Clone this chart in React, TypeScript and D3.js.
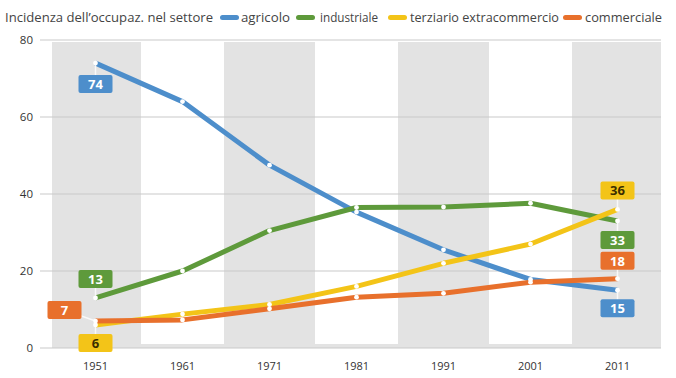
import React from "react";
import * as d3 from "d3";

const years = ["1951", "1961", "1971", "1981", "1991", "2001", "2011"];
const agricolo = [74, 64, 47.5, 35.3, 25.5, 17.8, 15];
const industriale = [13, 20, 30.5, 36.5, 36.6, 37.6, 33];
const terziario = [6, 8.8, 11.3, 16, 22, 27, 36];
const commerciale = [7, 7.3, 10.2, 13.2, 14.2, 17.1, 18];
const yTicks = [0, 20, 40, 60, 80];

const legendTitle = "Incidenza dell’occupaz. nel settore";

const series = [
  { name: "agricolo", values: agricolo, color: "#4d8ecb", text: "#ffffff" },
  { name: "industriale", values: industriale, color: "#5e9a3b", text: "#ffffff" },
  { name: "terziario extracommercio", values: terziario, color: "#f3c418", text: "#3a2e00" },
  { name: "commerciale", values: commerciale, color: "#e8702c", text: "#ffffff" },
];

// value-label placement: [series index, year index, dx, dy]
const labelSpots: [number, number, number, number][] = [
  [0, 0, 0, 21],
  [1, 0, 0, -19],
  [3, 0, -31, -11],
  [2, 0, 0, 18],
  [2, 6, 0, -19],
  [1, 6, 0, 19],
  [3, 6, 0, -18],
  [0, 6, 0, 18],
];

const W = 676;
const H = 378;
const left = 52;
const right = 661;
const top = 40;
const bottom = 348;
const font = "'Open Sans', 'Roboto', sans-serif";

export default function App() {
  const x = d3.scaleBand<string>().domain(years).range([left, right]).padding(0);
  const y = d3.scaleLinear().domain([0, 80]).range([bottom, top]);
  const cx = (yr: string) => (x(yr) as number) + x.bandwidth() / 2;
  const line = d3
    .line<number>()
    .x((_, i) => cx(years[i]))
    .y((v) => y(v));

  // legend layout: swatch x, text x, text width
  const legendItems = [
    { x: 220, tx: 241, tw: 49 },
    { x: 296, tx: 320, tw: 58 },
    { x: 388, tx: 410, tw: 149 },
    { x: 563, tx: 585, tw: 77 },
  ];

  return (
    <svg width={W} height={H} style={{ position: "absolute", left: 0, top: 0, background: "#fff" }}>
      {/* plot background with alternating bands */}
      <rect x={left} y={top + 2} width={right - left} height={bottom - top - 2} fill="#e3e3e3" />
      {years.map((yr, i) =>
        i % 2 === 1 ? (
          <rect
            key={yr}
            x={(x(yr) as number) + 2}
            y={top}
            width={x.bandwidth() - 4}
            height={bottom - top - 4}
            fill="#ffffff"
          />
        ) : null
      )}
      {/* grid */}
      {yTicks.map((t) => (
        <g key={t}>
          <line x1={40} x2={right} y1={y(t)} y2={y(t)} stroke="#c9c9c9" strokeWidth={1} />
          <text x={33} y={y(t) + 4} textAnchor="end" fontFamily={font} fontSize={11.5} fill="#333">
            {t}
          </text>
        </g>
      ))}
      {years.map((yr) => (
        <text key={yr} x={cx(yr)} y={370} textAnchor="middle" fontFamily={font} fontSize={11} fill="#333">
          {yr}
        </text>
      ))}
      {/* lines */}
      {series.map((s) => (
        <path
          key={s.name}
          d={line(s.values) as string}
          fill="none"
          stroke={s.color}
          strokeWidth={5}
          strokeLinejoin="round"
        />
      ))}
      {series.map((s) =>
        s.values.map((v, i) => (
          <circle key={s.name + i} cx={cx(years[i])} cy={y(v)} r={2.4} fill="#ffffff" />
        ))
      )}
      {/* value labels */}
      {labelSpots.map(([si, yi, dx, dy], k) => {
        const s = series[si];
        const v = s.values[yi];
        const px = cx(years[yi]);
        const py = y(v);
        const bx = px + dx;
        const by = py + dy;
        return (
          <g key={k}>
            <line x1={px} y1={py} x2={bx} y2={by} stroke="#ffffff" strokeWidth={1.5} opacity={0.8} />
            <rect x={bx - 17} y={by - 9} width={34} height={18} rx={2} fill={s.color} />
            <text
              x={bx}
              y={by + 5}
              textAnchor="middle"
              fontFamily="'Open Sans', sans-serif"
              fontWeight="bold"
              fontSize={13}
              fill={s.text}
            >
              {Math.round(v)}
            </text>
          </g>
        );
      })}
      {/* legend */}
      <text
        x={5}
        y={22}
        fontFamily={font}
        fontSize={13}
        fill="#444"
        textLength={208}
        lengthAdjust="spacingAndGlyphs"
      >
        {legendTitle}
      </text>
      {series.map((s, i) => (
        <g key={s.name}>
          <rect x={legendItems[i].x} y={15} width={19} height={5} rx={2.5} fill={s.color} />
          <text
            x={legendItems[i].tx}
            y={22}
            fontFamily={font}
            fontSize={13}
            fill="#444"
            textLength={legendItems[i].tw}
            lengthAdjust="spacingAndGlyphs"
          >
            {s.name}
          </text>
        </g>
      ))}
    </svg>
  );
}
